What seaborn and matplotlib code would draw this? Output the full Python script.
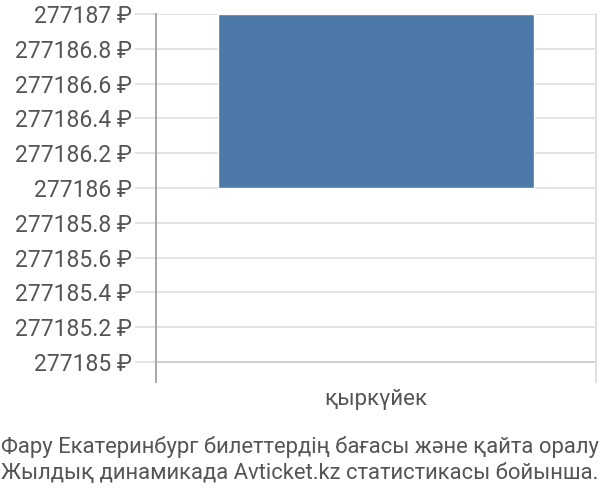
import seaborn as sns
import matplotlib.pyplot as plt
import matplotlib.ticker as mticker

months = ["қыркүйек"]
prices = [277187]
price_floor = 277186
y_ticks = [277185, 277185.2, 277185.4, 277185.6, 277185.8, 277186,
           277186.2, 277186.4, 277186.6, 277186.8, 277187]
caption = ("Фару Екатеринбург билеттердің бағасы және қайта оралу\n"
           "Жылдық динамикада Avticket.kz статистикасы бойынша.")

sns.set_theme(style="white")
plt.rcParams['font.family'] = ['Roboto', 'DejaVu Sans']

fig = plt.figure(figsize=(6, 5), dpi=100)
ax = fig.add_axes([156 / 600, 1 - 382 / 500, 440 / 600, 368 / 500])

heights = [p - price_floor for p in prices]
sns.barplot(x=months, y=heights, bottom=price_floor, color="#4d79a8",
            saturation=1, width=0.72, ax=ax, zorder=3)

ax.set_xlim(-0.5, 0.5)
ax.set_ylim(277185 - 20 / 174, 277187)
ax.set_yticks(y_ticks)
ax.yaxis.set_major_formatter(mticker.FuncFormatter(
    lambda v, pos: f"{round(v, 1):.1f}".rstrip("0").rstrip(".") + " ₽"))
ax.grid(axis="y", color="#e0e0e0", linewidth=1.3, zorder=0)
ax.set_axisbelow(True)
ax.get_ygridlines()[0].set_color("#cccccc")

ax.tick_params(axis="y", length=15, width=1.3, color="#e0e0e0", pad=2,
               labelsize=16.5, labelcolor="#555555", left=True)
ax.tick_params(axis="x", length=0, pad=5, labelsize=16, labelcolor="#555555")

for side in ["top", "bottom"]:
    ax.spines[side].set_visible(False)
ax.spines["left"].set_color("#a0a0a0")
ax.spines["left"].set_linewidth(1.3)
ax.spines["right"].set_color("#dddddd")
ax.spines["right"].set_linewidth(1.3)
ax.set_xlabel("")
ax.set_ylabel("")

fig.text(0.002, 0.032, caption, ha="left", va="bottom", fontsize=15.8,
         color="#555555", linespacing=1.3)

fig.savefig("out.png", dpi=100)
